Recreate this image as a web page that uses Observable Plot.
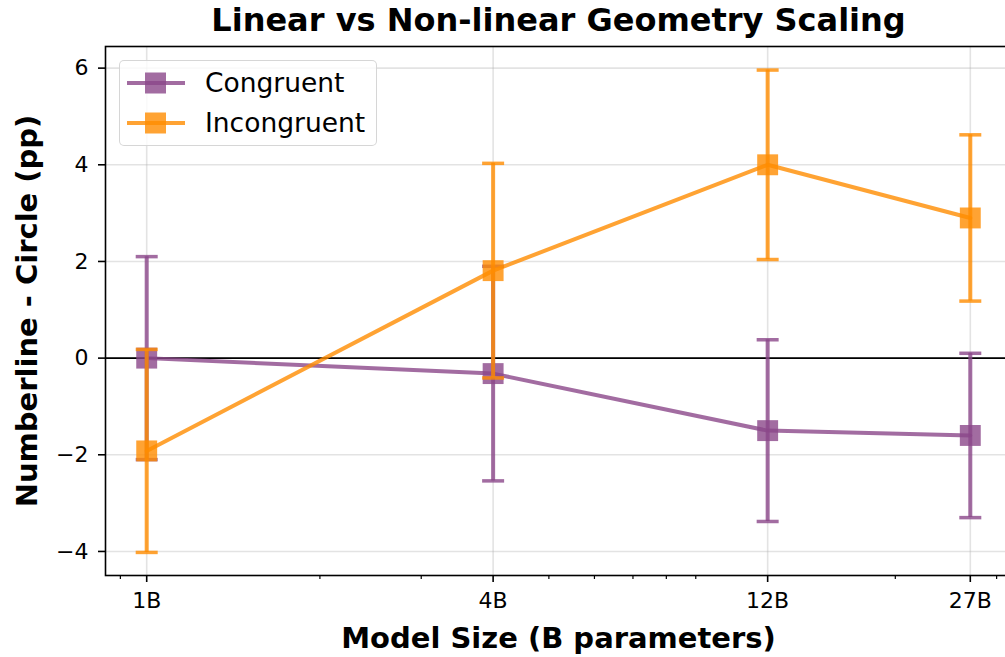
<!DOCTYPE html>
<html>
<head>
<meta charset="utf-8">
<script src="https://cdn.jsdelivr.net/npm/d3@7"></script>
<script src="https://cdn.jsdelivr.net/npm/@observablehq/plot@0.6"></script>
<style>
  html, body { margin: 0; padding: 0; background: #fff; overflow: hidden; }
  #wrap { position: relative; width: 1005px; height: 657px; overflow: hidden; font-family: "DejaVu Sans", sans-serif; }
  #wrap svg { max-width: none !important; width: 1011px !important; height: 657px !important; display: block; }
  #wrap svg g[aria-label*="tick label"], #wrap svg g[aria-label*="tick label"] text { font-size: 22px !important; }
  #legend { position: absolute; left: 119px; top: 60px; width: 256px; height: 84px; border: 1.6px solid rgba(204,204,204,0.8); border-radius: 5px; background: rgba(255,255,255,0.8); }
  #legend svg { width: 80px !important; height: 40px !important; }
  .entry { position: absolute; left: 0; height: 40px; display: flex; align-items: center; }
  .entry span { position: absolute; left: 85px; font-size: 26.5px; white-space: nowrap; line-height: 1; }
</style>
</head>
<body>
<div id="wrap"></div>
<script>
const sizes = [1, 4, 12, 27];
const sizeLabels = ["1B", "4B", "12B", "27B"];
const minorTicks = [0.9, 2, 3, 5, 6, 7, 8, 9, 20, 30];
const yTicks = [-4, -2, 0, 2, 4, 6];
const seriesNames = ["Congruent", "Incongruent"];
const seriesColors = ["#8B4789", "#FF8C00"];
const congruentMean = [0.0, -0.32, -1.5, -1.6];
const congruentErr = [2.1, 2.22, 1.88, 1.7];
const incongruentMean = [-1.92, 1.81, 4.0, 2.9];
const incongruentErr = [2.1, 2.22, 1.96, 1.72];

const means = [congruentMean, incongruentMean];
const errs = [congruentErr, incongruentErr];

const capSymbol = { draw(ctx) { ctx.moveTo(-11, 0); ctx.lineTo(11, 0); } };

const seriesMarks = [];
seriesNames.forEach((name, k) => {
  const rows = sizes.map((s, i) => ({ x: s, y: means[k][i], lo: means[k][i] - errs[k][i], hi: means[k][i] + errs[k][i] }));
  const c = seriesColors[k];
  seriesMarks.push(
    Plot.ruleX(rows, { x: "x", y1: "lo", y2: "hi", stroke: c, strokeWidth: 4, strokeOpacity: 0.8 }),
    Plot.dot(rows, { x: "x", y: "lo", symbol: capSymbol, stroke: c, strokeWidth: 3.5, strokeOpacity: 0.8, fill: "none" }),
    Plot.dot(rows, { x: "x", y: "hi", symbol: capSymbol, stroke: c, strokeWidth: 3.5, strokeOpacity: 0.8, fill: "none" }),
    Plot.line(rows, { x: "x", y: "y", stroke: c, strokeWidth: 4, strokeOpacity: 0.8 }),
    Plot.dot(rows, { x: "x", y: "y", symbol: "square", r: 11.8, fill: c, fillOpacity: 0.8, stroke: "none" })
  );
});

const fmtY = d => d < 0 ? "\u2212" + Math.abs(d) : String(d);

const chart = Plot.plot({
  width: 1011,
  height: 657,
  marginLeft: 105,
  marginRight: 0,
  marginTop: 46,
  marginBottom: 82,
  style: { fontFamily: "DejaVu Sans, sans-serif", fontSize: "22px", background: "white", color: "black" },
  x: { type: "log", domain: [0.848, 31.84] },
  y: { domain: [-4.4975, 6.4475] },
  marks: [
    Plot.gridX(sizes, { stroke: "#b0b0b0", strokeOpacity: 0.35, strokeWidth: 1.6 }),
    Plot.gridY(yTicks, { stroke: "#b0b0b0", strokeOpacity: 0.35, strokeWidth: 1.6 }),
    Plot.ruleY([0], { stroke: "black", strokeWidth: 1.6 }),
    ...seriesMarks,
    Plot.axisX(minorTicks, { tickSize: 4, strokeWidth: 1.2, tickFormat: () => "", label: null }),
    Plot.axisX(sizes, { tickSize: 7, tickPadding: 10, strokeWidth: 1.6, fontSize: 22, tickFormat: d => sizeLabels[sizes.indexOf(d)], label: null }),
    Plot.axisY(yTicks, { tickSize: 7, tickPadding: 10, strokeWidth: 1.6, fontSize: 22, tickFormat: fmtY, label: null }),
    Plot.frame({ stroke: "black", strokeWidth: 1.6 }),
    Plot.text(["Linear vs Non-linear Geometry Scaling"], { frameAnchor: "top", dy: -26, lineAnchor: "middle", textAnchor: "middle", fontSize: 32, fontWeight: "bold", fill: "black" }),
    Plot.text(["Model Size (B parameters)"], { frameAnchor: "bottom", dy: 63, lineAnchor: "middle", textAnchor: "middle", fontSize: 29, fontWeight: "bold", fill: "black" }),
    Plot.text(["Numberline - Circle (pp)"], { frameAnchor: "left", dx: -78, rotate: -90, lineAnchor: "middle", textAnchor: "middle", fontSize: 29, fontWeight: "bold", fill: "black" })
  ]
});

const wrap = document.getElementById("wrap");
wrap.appendChild(chart);

const legend = document.createElement("div");
legend.id = "legend";
seriesNames.forEach((name, k) => {
  const e = document.createElement("div");
  e.className = "entry";
  e.style.top = (k === 0 ? 2 : 42) + "px";
  const c = seriesColors[k];
  e.innerHTML = `<svg width="80" height="40"><line x1="7" x2="65" y1="20" y2="20" stroke="${c}" stroke-width="4" stroke-opacity="0.8"/><rect x="25" y="9.5" width="21" height="21" fill="${c}" fill-opacity="0.8"/></svg><span>${name}</span>`;
  legend.appendChild(e);
});
wrap.appendChild(legend);
</script>
</body>
</html>
